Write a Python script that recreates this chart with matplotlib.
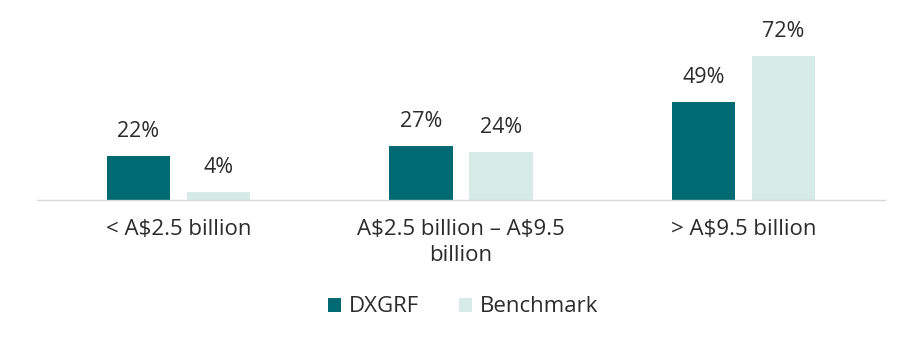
import matplotlib.pyplot as plt
import numpy as np

plt.rcParams['font.family'] = ['Open Sans', 'DejaVu Sans']
plt.rcParams['text.parse_math'] = False

categories = ['< A$2.5 billion', 'A$2.5 billion – A$9.5\nbillion', '> A$9.5 billion']
dxgrf = [22, 27, 49]
benchmark = [4, 24, 72]

c_dx = '#006a72'
c_bm = '#d6ebe6'
txt = '#2b2b2b'

fig = plt.figure(figsize=(9.22, 3.5), dpi=100)
ax = fig.add_axes([37 / 922, 150 / 350, 848 / 922, 180 / 350])

x = np.arange(len(categories))
w = 0.223
off = 0.1415
b1 = ax.bar(x - off, dxgrf, w, color=c_dx, label='DXGRF')
b2 = ax.bar(x + off, benchmark, w, color=c_bm, label='Benchmark')

for bars, vals in [(b1, dxgrf), (b2, benchmark)]:
    for r, v in zip(bars, vals):
        ax.annotate(f'{v}%', (r.get_x() + r.get_width() / 2, v),
                    xytext=(0, 10), textcoords='offset points',
                    ha='center', va='bottom', fontsize=15.5, color=txt)

ax.set_xlim(-0.5, 2.5)
ax.set_ylim(0, 90)
ax.set_xticks(x)
ax.set_xticklabels(categories, fontsize=16, color=txt, linespacing=1.3)
ax.tick_params(axis='x', length=0, pad=14)
ax.set_yticks([])
for s in ['top', 'right', 'left']:
    ax.spines[s].set_visible(False)
ax.spines['bottom'].set_color('#d9d9d9')
ax.spines['bottom'].set_linewidth(1)

fig.legend(handles=[b1, b2], loc='center', bbox_to_anchor=(463 / 922, 1 - 307 / 350),
           ncol=2, frameon=False, fontsize=16, handlelength=0.6, handleheight=0.6,
           handletextpad=0.35, columnspacing=1.8, labelcolor=txt)

fig.savefig('out.png', dpi=100)
